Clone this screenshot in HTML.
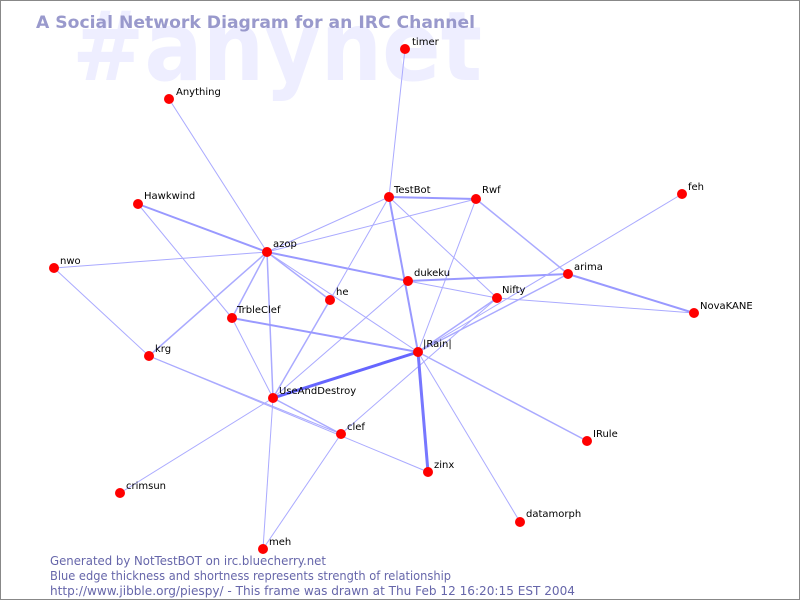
<!DOCTYPE html>
<html><head><style>body{margin:0;background:#fff}svg{display:block}</style></head><body>
<svg width="800" height="600" xmlns="http://www.w3.org/2000/svg" font-family="DejaVu Sans, Liberation Sans, sans-serif">
<rect x="0.5" y="0.5" width="799" height="599" fill="#fff" stroke="#888"/>
<text x="72" y="80" font-size="96" font-weight="bold" fill="#eeeeff" textLength="410" lengthAdjust="spacingAndGlyphs">#anynet</text>
<text x="36" y="28" font-size="17" font-weight="bold" fill="#9999cc" textLength="439" lengthAdjust="spacingAndGlyphs">A Social Network Diagram for an IRC Channel</text>
<g stroke="#aaaaff" stroke-width="1" fill="none">
<line x1="405" y1="49" x2="389" y2="197"/>
<line x1="169" y1="99" x2="267" y2="252"/>
<line x1="138" y1="204" x2="267" y2="252" stroke-width="2" stroke="#9999ff"/>
<line x1="138" y1="204" x2="232" y2="318"/>
<line x1="232" y1="318" x2="273" y2="398"/>
<line x1="54" y1="268" x2="267" y2="252"/>
<line x1="54" y1="268" x2="149" y2="356"/>
<line x1="149" y1="356" x2="341" y2="434"/>
<line x1="149" y1="356" x2="428" y2="472"/>
<line x1="149" y1="356" x2="267" y2="252" stroke-width="1.5"/>
<line x1="267" y1="252" x2="389" y2="197"/>
<line x1="267" y1="252" x2="476" y2="199"/>
<line x1="267" y1="252" x2="408" y2="281" stroke-width="2" stroke="#9999ff"/>
<line x1="267" y1="252" x2="330" y2="300" stroke-width="1.5"/>
<line x1="267" y1="252" x2="418" y2="352"/>
<line x1="267" y1="252" x2="232" y2="318" stroke-width="1.5"/>
<line x1="267" y1="252" x2="273" y2="398" stroke-width="1.5"/>
<line x1="389" y1="197" x2="476" y2="199" stroke-width="2" stroke="#9999ff"/>
<line x1="389" y1="197" x2="418" y2="352" stroke-width="2" stroke="#9999ff"/>
<line x1="389" y1="197" x2="497" y2="298"/>
<line x1="389" y1="197" x2="330" y2="300"/>
<line x1="330" y1="300" x2="273" y2="398" stroke-width="1.5"/>
<line x1="476" y1="199" x2="568" y2="274" stroke-width="1.5"/>
<line x1="476" y1="199" x2="418" y2="352"/>
<line x1="408" y1="281" x2="568" y2="274" stroke-width="2" stroke="#9999ff"/>
<line x1="408" y1="281" x2="497" y2="298"/>
<line x1="408" y1="281" x2="273" y2="398"/>
<line x1="497" y1="298" x2="694" y2="313"/>
<line x1="568" y1="274" x2="694" y2="313" stroke-width="2" stroke="#9999ff"/>
<line x1="568" y1="274" x2="418" y2="352" stroke-width="1.5"/>
<line x1="682" y1="194" x2="418" y2="352"/>
<line x1="497" y1="298" x2="418" y2="352" stroke-width="1.5"/>
<line x1="497" y1="298" x2="341" y2="434"/>
<line x1="232" y1="318" x2="418" y2="352" stroke-width="2" stroke="#9999ff"/>
<line x1="273" y1="398" x2="418" y2="352" stroke-width="3" stroke="#6666ff"/>
<line x1="418" y1="352" x2="428" y2="472" stroke-width="3" stroke="#7777ff"/>
<line x1="418" y1="352" x2="587" y2="441" stroke-width="1.5"/>
<line x1="418" y1="352" x2="520" y2="522"/>
<line x1="273" y1="398" x2="341" y2="434" stroke-width="1.5"/>
<line x1="273" y1="398" x2="120" y2="493"/>
<line x1="273" y1="398" x2="263" y2="549"/>
<line x1="341" y1="434" x2="263" y2="549"/>
</g>
<g fill="#ff0000">
<circle cx="405" cy="49" r="5"/><circle cx="169" cy="99" r="5"/><circle cx="389" cy="197" r="5"/><circle cx="476" cy="199" r="5"/>
<circle cx="682" cy="194" r="5"/><circle cx="138" cy="204" r="5"/><circle cx="267" cy="252" r="5"/><circle cx="54" cy="268" r="5"/>
<circle cx="408" cy="281" r="5"/><circle cx="568" cy="274" r="5"/><circle cx="330" cy="300" r="5"/><circle cx="497" cy="298" r="5"/>
<circle cx="694" cy="313" r="5"/><circle cx="232" cy="318" r="5"/><circle cx="418" cy="352" r="5"/><circle cx="149" cy="356" r="5"/>
<circle cx="273" cy="398" r="5"/><circle cx="341" cy="434" r="5"/><circle cx="587" cy="441" r="5"/><circle cx="428" cy="472" r="5"/>
<circle cx="120" cy="493" r="5"/><circle cx="520" cy="522" r="5"/><circle cx="263" cy="549" r="5"/>
</g>
<g font-size="10" fill="#000">
<text x="412" y="45">timer</text><text x="176" y="95">Anything</text><text x="394" y="193">TestBot</text><text x="482" y="193">Rwf</text>
<text x="688" y="190">feh</text><text x="144" y="199">Hawkwind</text><text x="273" y="247">azop</text><text x="60" y="264">nwo</text>
<text x="414" y="276">dukeku</text><text x="574" y="270">arima</text><text x="336" y="295">he</text><text x="502" y="293">Nifty</text>
<text x="700" y="309">NovaKANE</text><text x="237" y="313">TrbleClef</text><text x="423" y="347">|Rain|</text><text x="155" y="352">krg</text>
<text x="279" y="394">UseAndDestroy</text><text x="347" y="430">clef</text><text x="593" y="437">IRule</text><text x="434" y="468">zinx</text>
<text x="126" y="489">crimsun</text><text x="526" y="517">datamorph</text><text x="269" y="545">meh</text>
</g>
<g font-size="12" fill="#6666aa">
<text x="50" y="565" textLength="276" lengthAdjust="spacingAndGlyphs">Generated by NotTestBOT on irc.bluecherry.net</text>
<text x="50" y="580" textLength="401" lengthAdjust="spacingAndGlyphs">Blue edge thickness and shortness represents strength of relationship</text>
<text x="50" y="595" textLength="525" lengthAdjust="spacingAndGlyphs">http://www.jibble.org/piespy/ - This frame was drawn at Thu Feb 12 16:20:15 EST 2004</text>
</g>
</svg>
</body></html>
